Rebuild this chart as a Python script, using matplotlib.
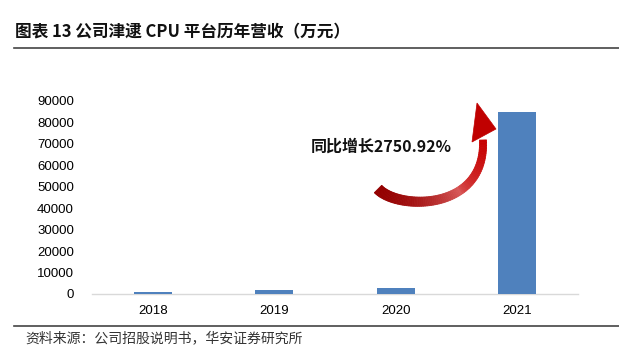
import numpy as np
import matplotlib
matplotlib.use('Agg')
import matplotlib.pyplot as plt
from matplotlib.patches import Polygon

plt.rcParams['font.family'] = ['Noto Sans CJK SC', 'DejaVu Sans']

years = ['2018', '2019', '2020', '2021']
revenue = [1000, 1800, 2980, 84960]
yticks = list(range(0, 90001, 10000))
title = '图表 13 公司津逮 CPU 平台历年营收（万元）'
note = '同比增长2750.92%'
source = '资料来源：公司招股说明书，华安证券研究所'

W, H = 619, 352
fig = plt.figure(figsize=(W / 100, H / 100), dpi=100)

ax = fig.add_axes([92 / W, 1 - 294 / H, (578 - 92) / W, (294 - 101) / H])
x = np.arange(len(years))
ax.bar(x, revenue, width=0.31, color='#4F81BD', zorder=3)
ax.set_xlim(-0.5, len(years) - 0.5)
ax.set_ylim(0, 90000)
ax.set_yticks(yticks)
ax.set_yticklabels([str(v) for v in yticks], family='Liberation Sans', fontsize=9.5)
ax.set_xticks(x)
ax.set_xticklabels(years, family='Liberation Sans', fontsize=9.5)
ax.tick_params(axis='both', length=0)
ax.tick_params(axis='y', pad=13)
ax.tick_params(axis='x', pad=8)
for s in ['top', 'right', 'left']:
    ax.spines[s].set_visible(False)
ax.spines['bottom'].set_color('#D9D9D9')
ax.spines['bottom'].set_linewidth(1.0)

# overlay in pixel coords for title, rules, arrow
ov = fig.add_axes([0, 0, 1, 1], zorder=5)
ov.set_xlim(0, W)
ov.set_ylim(H, 0)
ov.axis('off')
ov.patch.set_alpha(0)

ov.text(15, 32, title, fontsize=12, fontweight='bold', va='center', ha='left', color='#111111')
ov.plot([14, 619], [48, 48], color='#444444', lw=1.2)
ov.plot([14, 619], [326, 326], color='#444444', lw=1.2)
ov.text(25, 338, source, fontsize=10, va='center', ha='left', color='#333333')

ov.text(311, 147, note, fontsize=11.5, fontweight='bold', va='center', ha='left', color='#111111')

# curved arrow
P = np.array([[378, 189], [398, 210], [486, 212], [483, 140]], dtype=float)
t = np.linspace(0, 1, 80)
B = ((1 - t) ** 3)[:, None] * P[0] + (3 * (1 - t) ** 2 * t)[:, None] * P[1] \
    + (3 * (1 - t) * t ** 2)[:, None] * P[2] + (t ** 3)[:, None] * P[3]
d = np.gradient(B, axis=0)
d /= np.linalg.norm(d, axis=1)[:, None]
nrm = np.stack([-d[:, 1], d[:, 0]], axis=1)
wid = np.linspace(10.5, 7, len(t)) / 2
A = B + nrm * wid[:, None]
C = B - nrm * wid[:, None]
c0 = np.array([0.58, 0.0, 0.0])
c1 = np.array([0.85, 0.35, 0.35])
c2 = np.array([0.78, 0.0, 0.0])
for i in range(len(t) - 1):
    tt = t[i]
    if tt < 0.65:
        col = c0 + (c1 - c0) * (tt / 0.65) ** 2
    else:
        col = c1 + (c2 - c1) * ((tt - 0.65) / 0.35) ** 0.5
    ov.add_patch(Polygon([A[i], A[i + 1], C[i + 1], C[i]], closed=True,
                         facecolor=col, edgecolor=col, lw=0.6))
ov.add_patch(Polygon([[477, 103], [496, 129], [472, 142]], closed=True,
                     facecolor='#C00000', edgecolor='#C00000', lw=0.5))

fig.savefig('out.png', dpi=100)
